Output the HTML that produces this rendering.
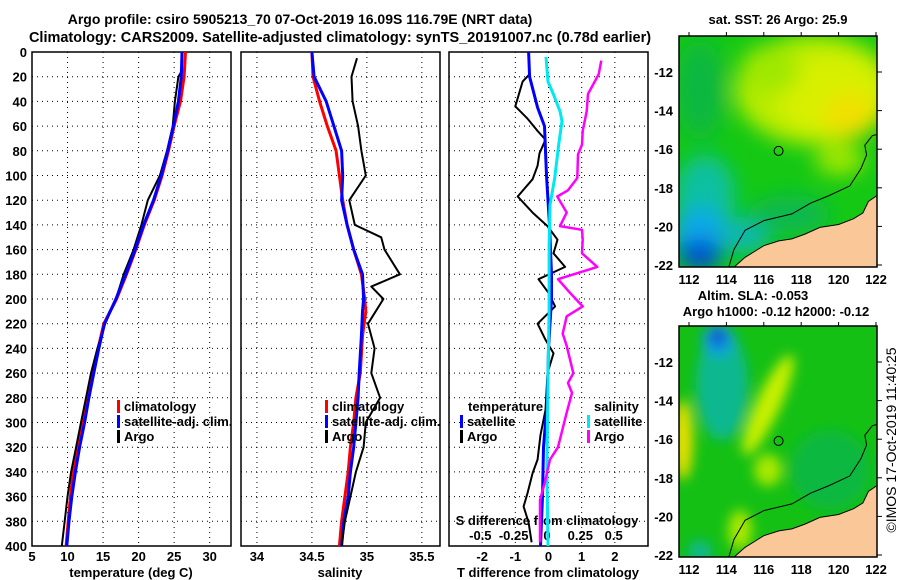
<!DOCTYPE html>
<html><head><meta charset="utf-8"><style>
html,body{margin:0;padding:0;background:#fff;}
svg{display:block;font-family:"Liberation Sans",sans-serif;font-weight:bold;}
</style></head><body>
<svg id="s" width="900" height="580" viewBox="0 0 900 580">
<defs>
<filter id="b1" x="-50%" y="-50%" width="200%" height="200%"><feGaussianBlur stdDeviation="10"/></filter>
<filter id="b2" x="-50%" y="-50%" width="200%" height="200%"><feGaussianBlur stdDeviation="6"/></filter>
<clipPath id="c1"><rect x="679" y="36" width="198" height="231"/></clipPath>
<clipPath id="c2"><rect x="679" y="326" width="198" height="231"/></clipPath>
</defs>
<text x="300" y="24" font-size="14" text-anchor="middle">Argo profile: csiro 5905213_70 07-Oct-2019 16.09S 116.79E (NRT data)</text>
<text x="340" y="42" font-size="14.5" text-anchor="middle">Climatology: CARS2009. Satellite-adjusted climatology: synTS_20191007.nc (0.78d earlier)</text>

<g id="map1" clip-path="url(#c1)">
<rect x="679" y="36" width="198" height="231" fill="#14c814"/>
<g filter="url(#b1)">
<ellipse cx="700" cy="90" rx="25" ry="50" fill="#10b840"/>
<ellipse cx="815" cy="90" rx="80" ry="55" fill="#b8ec00"/>
<ellipse cx="830" cy="95" rx="55" ry="40" fill="#d8f000"/>
<ellipse cx="850" cy="115" rx="28" ry="22" fill="#f0e000"/>
<ellipse cx="770" cy="70" rx="30" ry="25" fill="#a0e800"/>
<ellipse cx="840" cy="160" rx="25" ry="15" fill="#a0e800"/>
<ellipse cx="705" cy="195" rx="30" ry="40" fill="#10c0a0"/>
<ellipse cx="700" cy="235" rx="28" ry="28" fill="#10a8e8"/>
<ellipse cx="700" cy="255" rx="22" ry="16" fill="#0050d0"/>
<ellipse cx="745" cy="235" rx="25" ry="18" fill="#10b8b0"/>
<ellipse cx="790" cy="215" rx="40" ry="20" fill="#10b850"/>
</g>
</g>
<g id="map2" clip-path="url(#c2)">
<rect x="679" y="326" width="198" height="231" fill="#14c014"/>
<g filter="url(#b2)">
<ellipse cx="722" cy="385" rx="26" ry="55" fill="#10b890"/>
<ellipse cx="718" cy="340" rx="16" ry="16" fill="#10a0e0"/>
<ellipse cx="718" cy="337" rx="8" ry="9" fill="#1050d0"/>
<ellipse cx="768" cy="405" rx="12" ry="55" fill="#c8f000" transform="rotate(25 768 405)"/>
<ellipse cx="683" cy="440" rx="10" ry="40" fill="#e8e000"/>
<ellipse cx="768" cy="470" rx="14" ry="16" fill="#a8e800"/>
<ellipse cx="740" cy="530" rx="12" ry="20" fill="#a8e800"/>
<ellipse cx="700" cy="552" rx="12" ry="12" fill="#10b890"/>
<ellipse cx="830" cy="470" rx="40" ry="40" fill="#10b840"/>
</g>
</g>
</svg>
<script>
// ---- profile data ----
var tDepth=[0,20,40,60,80,100,120,140,160,180,200,220,240,260,280,300,320,340,360,380,400];
var tClim=[26.6,26.4,25.9,25.0,24.2,23.3,22.2,20.8,19.6,18.3,16.9,15.1,14.3,13.5,12.8,12.0,11.3,10.8,10.4,10.1,9.8];
var tSat=[26.1,26.0,25.6,24.9,24.1,23.2,22.1,20.7,19.5,18.2,16.8,15.2,14.4,13.7,13.0,12.4,11.7,11.1,10.6,10.2,9.9];
var tArgoDepth=[16,20,40,60,80,100,120,140,160,180,200,220,240,260,280,300,320,340,360,380,400];
var tArgo=[26.0,25.6,25.1,24.8,24.0,23.0,21.3,20.4,19.3,17.9,16.8,15.3,14.2,13.3,12.6,11.9,11.2,10.5,10.0,9.6,9.2];
var sDepth=[0,20,40,60,80,100,120,140,160,180,200,210,230,260,280,300,320,340,360,380,400];
var sClim=[34.50,34.51,34.57,34.64,34.72,34.75,34.78,34.82,34.88,34.95,34.98,34.99,34.96,34.94,34.90,34.88,34.85,34.83,34.80,34.77,34.75];
var sSat=[34.50,34.52,34.63,34.70,34.77,34.78,34.77,34.82,34.88,34.96,34.97,34.96,34.95,34.93,34.92,34.90,34.88,34.85,34.83,34.79,34.77];
var sArgoDepth=[5,20,40,60,80,100,120,140,150,160,180,190,200,220,240,260,280,300,320,340,360,380,400];
var sArgo=[34.91,34.86,34.87,34.92,34.95,34.99,34.84,34.89,35.13,35.16,35.30,35.04,35.15,35.01,35.07,35.04,35.12,34.99,34.97,34.90,34.85,34.80,34.77];
var dDepthBlue=[0,20,45,60,80,100,140,180,200,240,280,320,360,400];
var dTSat=[-0.6,-0.57,-0.33,-0.12,-0.09,-0.06,0.03,0.09,0.09,0,-0.03,-0.15,-0.18,-0.24];
var dDepthBlack=[18,24,44,54,64,71,82,92,103,117,130,141,152,163,174,184,195,206,220,233,244,260,290,310,330,341,357,368,381,397];
var dTArgo=[-0.57,-0.78,-1.0,-0.63,-0.33,-0.09,-0.27,-0.33,-0.48,-0.93,-0.48,-0.03,0.27,0.15,0.5,-0.3,0,0.2,-0.33,-0.09,0.15,-0.03,-0.09,-0.24,-0.33,-0.48,-0.63,-0.75,-0.6,-0.51];
var dDepthCyan=[4,24,34,48,56,75,102,124,156,209,262,340,400];
var dSSat=[-0.015,0,0.04,0.09,0.105,0.08,0.05,0.015,0.008,0.008,0,-0.008,0];
var dDepthMag=[7,18,24,34,48,64,75,83,102,112,117,130,141,144,152,163,174,184,195,206,214,228,238,260,268,276,292,320,330,347,363,397];
var dSArgo=[0.40,0.38,0.35,0.30,0.29,0.26,0.255,0.225,0.22,0.15,0.07,0.14,0.09,0.255,0.26,0.255,0.37,0.075,0.165,0.26,0.14,0.11,0.14,0.19,0.15,0.18,0.14,0.075,0.015,-0.02,-0.06,-0.06];
var depthTicks=[0,20,40,60,80,100,120,140,160,180,200,220,240,260,280,300,320,340,360,380,400];
var tTicks=[5,10,15,20,25,30];
var sTicks=[34,34.5,35,35.5];
var sTickLabels=["34","34.5","35","35.5"];
var dTTicks=[-2,-1,0,1,2];
var dSTicks=[-0.5,-0.25,0,0.25,0.5];
var dSTickLabels=["-0.5","-0.25","0","0.25","0.5"];
var lonTicks=[112,114,116,118,120,122];
var latTicks=[-12,-14,-16,-18,-20,-22];
var coastLon=[114.3,115,115.5,116,116.8,117.5,118.2,119,120,120.8,121.3,121.6,122.2];
var coastLat=[-22.2,-21.6,-21.3,-21.0,-20.75,-20.65,-20.4,-20.05,-19.9,-19.6,-19.3,-18.7,-18.3];
var isoLon=[114.1,114.4,115,116,117.5,118.5,119.5,120.6,121.2,121.5,121.4,121.8,122.2];
var isoLat=[-22.2,-21.2,-20.2,-19.7,-19.35,-18.8,-18.4,-17.9,-17.0,-16.3,-15.8,-15.3,-15.2];
var profLon=116.79, profLat=-16.09;

var svg=document.getElementById('s');
var NS='http://www.w3.org/2000/svg';
var Y0=52,Y1=546;
function yD(d){return Y0+(d/400)*(Y1-Y0);}
var panels=[{x0:32,x1:231,d0:5,d1:33},{x0:241,x1:440,d0:33.855,d1:35.665},{x0:449,x1:648,d0:-3,d1:3}];
function xP(p,v){var P=panels[p];return P.x0+(v-P.d0)/(P.d1-P.d0)*(P.x1-P.x0);}
function xS3(v){return 548+v*133.3;}
function mk(tag,a){var e=document.createElementNS(NS,tag);for(var k in a)e.setAttribute(k,a[k]);svg.appendChild(e);return e;}
function txt(x,y,s,anchor,size,col){var e=mk('text',{x:x,y:y,'font-size':size||13,'text-anchor':anchor||'start',fill:col||'#000'});e.textContent=s;return e;}

for(var p=0;p<3;p++){
  var P=panels[p];
  var r=mk('rect',{x:P.x0,y:Y0,width:P.x1-P.x0,height:Y1-Y0,fill:'none',stroke:'#000','stroke-width':1.5});
  
  
  for(var i=1;i<depthTicks.length-1;i++){
    var g=mk('line',{x1:P.x0,x2:P.x1,y1:yD(depthTicks[i]),y2:yD(depthTicks[i]),stroke:'#000','stroke-width':1,'stroke-dasharray':'1,4'});
    
    
  }
  var ticks=p==0?tTicks:(p==1?sTicks:dTTicks);
  for(var i=0;i<ticks.length;i++){
    var xx=xP(p,ticks[i]);
    var g=mk('line',{x1:xx,x2:xx,y1:Y0,y2:Y1,stroke:'#000','stroke-width':1,'stroke-dasharray':'1,4'});
    
    
    var lab=p==0?String(ticks[i]):(p==1?sTickLabels[i]:String(ticks[i]));
    var t=txt(xx,561,lab,'middle',13);
    
    
  }
}
for(var i=0;i<depthTicks.length;i++){
  var t=txt(27,yD(depthTicks[i])+5,String(depthTicks[i]),'end',13);
  
  
}
var a1=txt(131,577,'temperature (deg C)','middle',13);


var a2=txt(340,577,'salinity','middle',13);


var a3=txt(548,577,'T difference from climatology','middle',13);


var a4=txt(547,525,'S difference from climatology','middle',13);


for(var i=0;i<dSTicks.length;i++){
  var t=txt(xS3(dSTicks[i])-1,540,dSTickLabels[i],'middle',13);
  
  
}

function line(xs,ds,fx,col,w,name){
  var pts=[];for(var i=0;i<xs.length;i++)pts.push(fx(xs[i]).toFixed(1)+','+yD(ds[i]).toFixed(1));
  var e=mk('polyline',{points:pts.join(' '),fill:'none',stroke:col,'stroke-width':w,'stroke-linejoin':'round'});
  
  
}
line(tClim,tDepth,function(v){return xP(0,v);},'#ff0000',3,'temperature-climatology-line');
line(tArgo,tArgoDepth,function(v){return xP(0,v);},'#000',2,'temperature-argo-line');
line(tSat,tDepth,function(v){return xP(0,v);},'#0000ff',3,'temperature-satellite-line');
line(sClim,sDepth,function(v){return xP(1,v);},'#ff0000',3,'salinity-climatology-line');
line(sSat,sDepth,function(v){return xP(1,v);},'#0000ff',3,'salinity-satellite-line');
line(sArgo,sArgoDepth,function(v){return xP(1,v);},'#000',2,'salinity-argo-line');
line(dTArgo,dDepthBlack,function(v){return xP(2,v);},'#000',2,'t-diff-argo-line');
line(dTSat,dDepthBlue,function(v){return xP(2,v);},'#0000ff',3,'t-diff-satellite-line');
line(dSSat,dDepthCyan,xS3,'#00e8f0',3,'s-diff-satellite-line');
line(dSArgo,dDepthMag,xS3,'#ff00ff',2.5,'s-diff-argo-line');

function legend(x,y,col,label,name){
  if(col){var m=mk('rect',{x:x,y:y-11,width:3,height:13,fill:col});
    
    }
  var t=txt(x+7,y,label,'start',13);
  
  
}
legend(117,411,'#ff0000','climatology','legend-climatology');
legend(117,426,'#0000ff','satellite-adj. clim.','legend-satellite-adj');
legend(117,441,'#000','Argo','legend-argo');
legend(325,411,'#ff0000','climatology','legend-s-climatology');
legend(325,426,'#0000ff','satellite-adj. clim.','legend-s-satellite-adj');
legend(325,441,'#000','Argo','legend-s-argo');
legend(461,411,null,'temperature','legend-temperature-header');
legend(460,426,'#0000ff','satellite','legend-t-satellite');
legend(460,441,'#000','Argo','legend-t-argo');
legend(587,411,null,'salinity','legend-salinity-header');
legend(587,426,'#00e8f0','satellite','legend-s-satellite');
legend(587,441,'#ff00ff','Argo','legend-s-argo-diff');

function mx(lon){return 689+(lon-112)*18.7;}
function my(lat,off){return 72+off+(-12-lat)*19.3;}
var maps=[{off:0,top:36},{off:290,top:326}];
for(var m=0;m<2;m++){
  var M=maps[m],off=M.off;
  var pts=[];for(var i=0;i<coastLon.length;i++)pts.push(mx(coastLon[i]).toFixed(1)+','+my(coastLat[i],off).toFixed(1));
  pts.push('878,'+(M.top+232));
  var land=mk('polygon',{points:pts.join(' '),fill:'#fac898',stroke:'#000','stroke-width':1,'clip-path':'url(#c'+(m+1)+')'});
  
  
  var ip=[];for(var i=0;i<isoLon.length;i++)ip.push(mx(isoLon[i]).toFixed(1)+','+my(isoLat[i],off).toFixed(1));
  var iso=mk('polyline',{points:ip.join(' '),fill:'none',stroke:'#000','stroke-width':1,'clip-path':'url(#c'+(m+1)+')'});
  
  
  var c=mk('circle',{cx:mx(profLon),cy:my(profLat,off),r:4.5,fill:'none',stroke:'#000','stroke-width':1});
  
  
  var f=mk('rect',{x:679,y:M.top,width:198,height:231,fill:'none',stroke:'#000','stroke-width':1.5});
  
  
  for(var i=0;i<lonTicks.length;i++){
    var xx=mx(lonTicks[i]);
    var tk=mk('line',{x1:xx,x2:xx,y1:M.top-4,y2:M.top,stroke:'#000'});
    
    
    var t=txt(xx,M.top+248,String(lonTicks[i]),'middle',13);
    
    
  }
  for(var i=0;i<latTicks.length;i++){
    var yy=my(latTicks[i],off);
    var tk=mk('line',{x1:877,x2:882,y1:yy,y2:yy,stroke:'#000'});
    
    
    var t=txt(673,yy+5,String(latTicks[i]),'end',13);
    
    
  }
}
var mt1=txt(778,24,'sat. SST: 26 Argo: 25.9','middle',13);


var mt2=txt(753,300,'Altim. SLA: -0.053','middle',13);


var mt3=txt(776,316,'Argo h1000: -0.12 h2000: -0.12','middle',13);


var cp=txt(0,0,'©IMOS 17-Oct-2019 11:40:25','middle',14);
cp.setAttribute('transform','translate(896,440) rotate(-90)');
cp.setAttribute('font-weight','normal');


</script>
</body></html>
